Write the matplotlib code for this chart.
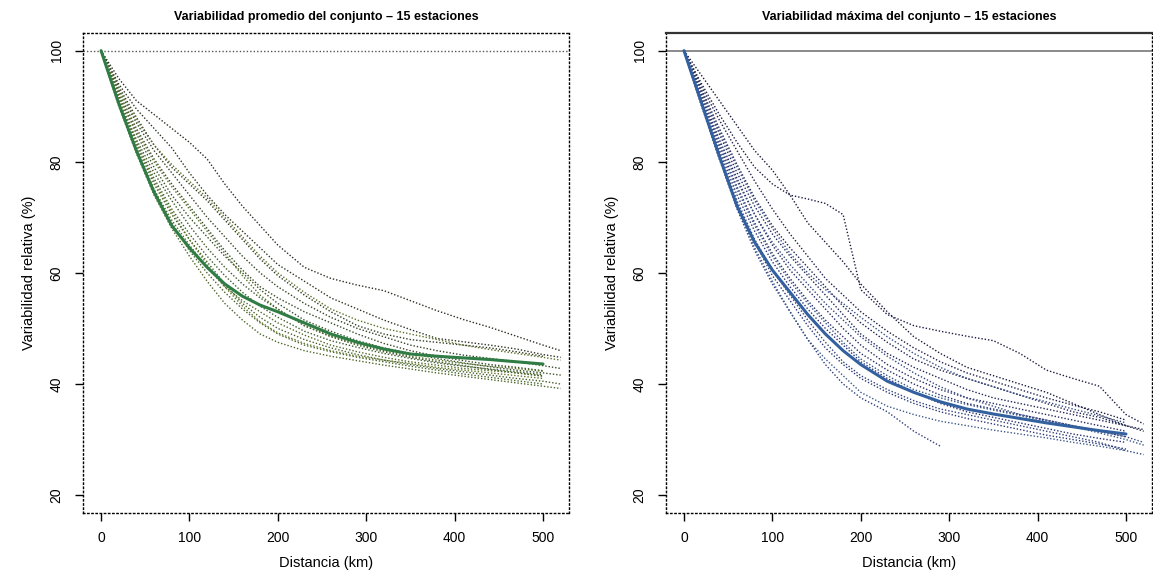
import numpy as np
import matplotlib
matplotlib.use("Agg")
import matplotlib.pyplot as plt
from matplotlib.colors import LinearSegmentedColormap

# distance grid (km); NaN = station curve already ended
dist_km = [0, 20, 40, 60, 80, 100, 120, 140, 160, 180, 200, 230, 260, 290,
           320, 350, 380, 410, 440, 470, 500, 520]
nan = float("nan")

# --- left panel: mean variability, 15 stations ---
prom_conjunto = [100, 90.5, 82, 74.5, 68.5, 64.5, 61, 58, 55.8, 54.2, 53, 51, 49, 47.5,
                 46.3, 45.4, 45, 44.7, 44.4, 44, 43.6, nan]
prom_st01 = [100, 95, 91, 88.5, 86, 83.5, 80.5, 76, 72, 68.5, 65, 61, 59, 57.8, 56.8, 55, 53.2, 51.6, 50.2, 48.6, 47, 46]
prom_st02 = [100, 94, 89.5, 86, 82.5, 78, 74, 70.5, 67.5, 64.5, 61.5, 58.5, 55.5, 53.5, 51.5, 49.8, 48.2, 47.6, 47, 46.3, 45.3, 44.8]
prom_st03 = [100, 93.5, 88, 83, 79, 76, 73, 69.5, 66, 62.5, 59.5, 56, 53, 50.5, 49, 48, 47.5, 47, 46.5, 45.8, 45, nan]
prom_st04 = [100, 93, 87, 82, 78, 74, 70, 66.5, 63, 60, 57.5, 54.5, 52, 50, 48.5, 47, 46, 45.2, 44.6, 44, 43.3, 42.8]
prom_st05 = [100, 92.5, 86, 80.5, 76, 72, 68, 64, 60.5, 57.5, 55.5, 53, 51, 49, 47.3, 46, 45, 44.2, 43.5, 43, 42.4, nan]
prom_st06 = [100, 92, 85, 79, 74, 70, 66.5, 63, 60, 57, 54.5, 51.5, 49.5, 47.8, 46.5, 45.5, 44.6, 43.8, 43.1, 42.5, 42, 41.6]
prom_st07 = [100, 91.5, 84, 78, 73, 68.5, 64.5, 61, 58, 55.5, 53.5, 50.5, 48.5, 47, 45.8, 44.8, 44, 43.3, 42.6, 42, 41.4, nan]
prom_st08 = [100, 91, 83.5, 77, 71.5, 67, 63, 59.5, 56.5, 54, 52, 49.5, 47.8, 46.6, 45.5, 44.6, 43.8, 43.2, 42.7, 42.2, 41.7, nan]
prom_st09 = [100, 91, 83, 76, 70.5, 66, 62, 58, 54.5, 52, 50, 48, 46.5, 45.3, 44.3, 43.5, 42.8, 42.2, 41.6, 41, 40.5, 40]
prom_st10 = [100, 90.5, 82.5, 75, 69, 64, 60, 56.5, 53.5, 51, 49, 47, 45.8, 44.8, 44, 43.2, 42.5, 41.8, 41.2, 40.6, 40, nan]
prom_st11 = [100, 90, 81.5, 74, 68, 63, 58.5, 54.5, 51.5, 49, 47.5, 46, 45, 44.2, 43.4, 42.7, 42, 41.4, 40.8, 40.2, 39.6, 39.2]
prom_st12 = [100, 90.5, 82, 75, 69.5, 65, 61, 57.5, 55, 53, 51, 48.8, 47, 45.8, 44.8, 44, 43.4, 42.8, 42.4, 42, 41.5, nan]
prom_st13 = [100, 92, 85.5, 80, 75.5, 71.5, 67.5, 63.5, 59.5, 56, 53.5, 50.5, 48.6, 47.2, 46, 45, 44.3, 43.7, 43.2, 42.8, 42.3, nan]
prom_st14 = [100, 93, 87.5, 83, 79.5, 76.5, 73.5, 70, 66.5, 63, 60, 56.5, 53.5, 51.5, 50, 49, 48, 47, 46.2, 45.5, 44.8, 44.3]
prom_st15 = [100, 91.5, 83.5, 76.5, 71, 66, 61.5, 57.5, 54, 51.2, 49.2, 47.3, 46, 45, 44.3, 43.7, 43, 42.5, 42, 41.5, 41, nan]

# --- right panel: maximum variability, 15 stations ---
max_conjunto = [100, 90.5, 81, 72, 65.5, 60.5, 56.5, 52.5, 49, 46, 43.5, 40.5, 38.5, 36.8,
                35.5, 34.6, 33.8, 33, 32.3, 31.6, 31, nan]
max_st01 = [100, 95.5, 91, 86.5, 82, 78.5, 74, 69, 65.5, 62, 58, 53, 48.5, 45.5, 43, 41.5, 40, 38.5, 36.5, 34.5, 32.5, 31.5]
max_st02 = [100, 94, 88.5, 83.5, 79, 76, 74, 73.3, 72.5, 70.5, 57, 52.5, 50.5, 49.5, 48.6, 47.8, 45.5, 42.5, 41, 39.6, 34.5, 32.8]
max_st03 = [100, 93.5, 87.5, 82, 76.5, 71.5, 67, 63, 59, 56, 53, 49.5, 46.5, 44, 42, 40.5, 39, 37.5, 36.2, 35, 33.5, nan]
max_st04 = [100, 93, 86, 79.5, 73.5, 68.5, 64.5, 61, 57.5, 54, 51, 47.5, 44.5, 42.5, 41, 39.5, 38, 36.5, 35, 34, 32.5, nan]
max_st05 = [100, 92.5, 85, 78, 72, 67, 63, 59.5, 56, 52.5, 49, 45.5, 43, 41, 39, 37.5, 36.5, 35.5, 34.5, 33.5, 32.5, 31.8]
max_st06 = [100, 92, 84, 77, 70.5, 65, 60.5, 57, 53.5, 50, 47, 43.5, 41, 39, 37.5, 36.5, 35.5, 34.5, 33.5, 32.5, 31.5, nan]
max_st07 = [100, 91.5, 83, 75.5, 69, 63.5, 59, 55, 51.5, 48.5, 45.5, 42.5, 40, 38, 36.5, 35.5, 34.5, 33.5, 32.5, 31.5, 30.5, nan]
max_st08 = [100, 91, 82, 74, 67.5, 62, 57.5, 53.5, 50, 47, 44, 41, 38.5, 36.5, 35, 34, 33, 32, 31, 30.2, 29.5, nan]
max_st09 = [100, 90.5, 81, 72.5, 65.5, 59.5, 55, 50.5, 46.5, 43.5, 41, 38.5, 36.5, 35, 33.8, 32.8, 31.8, 30.8, 30, 29.2, 28.3, nan]
max_st10 = [100, 90, 80.5, 71.5, 64, 58, 53, 48, 43.5, 40, 37.5, 35, 31.5, 28.8, nan, nan, nan, nan, nan, nan, nan, nan]
max_st11 = [100, 90.5, 81.5, 73, 66, 60.5, 56, 51.5, 47.5, 44, 41.5, 39, 37, 35.5, 34.5, 33.5, 32.5, 31.5, 30.5, 29.5, 28, 27.3]
max_st12 = [100, 91.5, 83.5, 76.5, 70.5, 65.5, 61.5, 58, 54.5, 51.5, 48.5, 45, 42, 39.5, 37.5, 36, 34.5, 33.5, 32.5, 31.5, 30.5, 29.5]
max_st13 = [100, 92.5, 85.5, 79, 73, 68, 63.5, 60, 57, 54.5, 52, 48.5, 45.5, 43, 41, 39.5, 38, 36.8, 35.5, 34.3, 33, nan]
max_st14 = [100, 91, 82.5, 75, 68.5, 63, 58.5, 54.5, 51, 47.5, 44.5, 41.5, 39, 37.5, 36.3, 35.3, 34.3, 33.3, 32.3, 31.2, 30, 29]
max_st15 = [100, 90, 80.5, 72, 64.5, 58.5, 53, 48, 44.5, 41.5, 38.5, 36, 34.5, 33.3, 32.5, 31.7, 31, 30.3, 29.5, 28.8, 28, nan]

x_ticks = [0, 100, 200, 300, 400, 500]
y_ticks = [20, 40, 60, 80, 100]

prom_series = [prom_st01, prom_st02, prom_st03, prom_st04, prom_st05, prom_st06, prom_st07,
               prom_st08, prom_st09, prom_st10, prom_st11, prom_st12, prom_st13, prom_st14, prom_st15]
max_series = [max_st01, max_st02, max_st03, max_st04, max_st05, max_st06, max_st07,
              max_st08, max_st09, max_st10, max_st11, max_st12, max_st13, max_st14, max_st15]

plt.rcParams["font.family"] = ["Liberation Sans", "DejaVu Sans"]

fig = plt.figure(figsize=(11.53, 5.75), dpi=100)
ax_l = fig.add_axes([0.072, 0.108, 0.4215, 0.8348])
ax_r = fig.add_axes([0.5776, 0.108, 0.4215, 0.8348])

panels = [
    (ax_l, prom_series, prom_conjunto, "Variabilidad promedio del conjunto \u2013 15 estaciones",
     LinearSegmentedColormap.from_list("g", ["#2a2f22", "#3f5e2a", "#5f7326"]), "#2f7d45"),
    (ax_r, max_series, max_conjunto, "Variabilidad m\u00e1xima del conjunto \u2013 15 estaciones",
     LinearSegmentedColormap.from_list("b", ["#1a1a3a", "#2a3070", "#3b5a8c"]), "#33609e"),
]

x = np.array(dist_km, dtype=float)
for i, (ax, series, mean_line, title, cmap, thick_col) in enumerate(panels):
    for k, ys in enumerate(series):
        ax.plot(x, np.array(ys, dtype=float), color=cmap(k / 14), lw=1.0,
                linestyle=(0, (1, 1.4)), zorder=2)
    ax.plot(x, np.array(mean_line, dtype=float), color=thick_col, lw=2.2,
            solid_capstyle="round", zorder=3)

    # reference line at 100 %
    ax.axhline(100, color="#777777" if i else "#555555", lw=1.2 if i else 1.0,
               linestyle="-" if i else (0, (1, 1.5)), zorder=1)

    ax.set_xlim(-20.4, 529.4)
    ax.set_ylim(16.8, 103.2)
    ax.set_xticks(x_ticks)
    ax.set_yticks(y_ticks)
    ax.tick_params(direction="out", length=6, width=1, labelsize=10, pad=7)
    ax.tick_params(axis="y", pad=8)
    for lab in ax.get_yticklabels():
        lab.set_rotation(90)
        lab.set_va("center")

    for side in ["left", "bottom", "right", "top"]:
        ax.spines[side].set_linestyle((0, (1, 2)))
        ax.spines[side].set_linewidth(1.0)
    if i:
        ax.spines["top"].set_linestyle("-")
        ax.spines["top"].set_linewidth(1.6)
        ax.spines["top"].set_color("#333333")

    ax.set_title(title, fontsize=9, fontweight="bold", pad=9)
    ax.set_xlabel("Distancia (km)", fontsize=10.5, labelpad=8)
    ax.set_ylabel("Variabilidad relativa (%)", fontsize=10.5, labelpad=10)

fig.savefig("out.png", dpi=100)
